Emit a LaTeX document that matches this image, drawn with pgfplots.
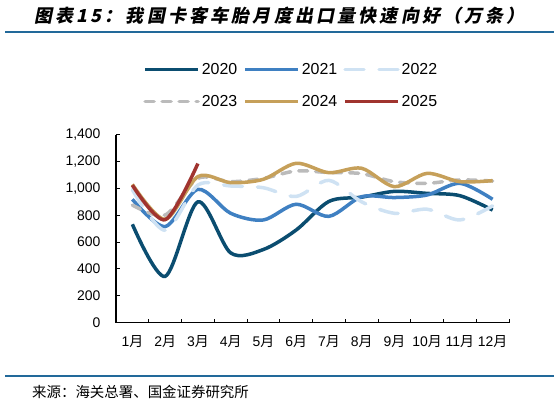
\documentclass[border=0pt]{standalone}
\usepackage{fontspec}
\usepackage{pgfplots}
\pgfplotsset{compat=1.18}
\setmainfont{Liberation Sans}
\newfontfamily\cjk{Noto Sans CJK SC}
\newfontfamily\cjktitle{Noto Sans CJK SC}[FakeSlant=0.2, LetterSpace=18]
\newcommand\yue{{\cjk 月}}
\definecolor{c2020}{HTML}{0B4D70}
\definecolor{c2021}{HTML}{3F80C2}
\definecolor{c2022}{HTML}{CFE2F3}
\definecolor{c2023}{HTML}{BBBBBB}
\definecolor{c2024}{HTML}{C6A05A}
\definecolor{c2025}{HTML}{A0342F}
\definecolor{rulec}{HTML}{22699A}
\begin{document}
\begin{tikzpicture}
\path[use as bounding box] (0bp,0bp) rectangle (559bp,403bp);
\node[anchor=west, inner sep=0pt, font=\cjktitle\bfseries\fontsize{18}{18}\selectfont] at (34bp,387.5bp) {图表15：我国卡客车胎月度出口量快速向好（万条）};
\draw[rulec, line width=1.2bp] (5bp,371bp) -- (554bp,371bp);
\draw[rulec, line width=1.2bp] (5bp,27bp) -- (554bp,27bp);
\node[anchor=west, inner sep=0pt, font=\cjk\fontsize{14.5}{14.5}\selectfont] at (32bp,11bp) {来源：海关总署、国金证券研究所};
\begin{axis}[
  at={(116bp,80.3bp)}, anchor=south west,
  scale only axis, width=393bp, height=188bp,
  xmin=0.5, xmax=12.5, ymin=0, ymax=1400,
  axis lines=left,
  axis line style={-, black, line width=1.2bp},
  xtick={0.5,1.5,...,12.5},
  x tick label as interval,
  xticklabels={1\yue,2\yue,3\yue,4\yue,5\yue,6\yue,7\yue,8\yue,9\yue,10\yue,11\yue,12\yue},
  ytick={0,200,...,1400},
  tick align=inside,
  major tick length=4bp,
  tick style={black, line width=1bp},
  /pgf/number format/1000 sep={,},
  /pgf/number format/assume math mode=true,
  yticklabel style={font=\fontsize{14}{14}\selectfont, xshift=-12bp},
  xticklabel style={font=\fontsize{14}{14}\selectfont, yshift=-9bp},
  legend columns=3,
  legend cell align=left,
  legend image code/.code={\draw[#1] (0bp,0bp) -- (53bp,0bp);},
  legend style={draw=none, fill=none, at={(0.446,1.2617)}, anchor=center,
    font=\fontsize{16}{16}\selectfont,
    /tikz/every even column/.append style={column sep=4bp},
    row sep=15bp},
  every axis plot/.append style={line width=3.5bp, smooth, tension=0.5},
]
\addplot[c2020] coordinates {(1,733) (2,345) (3,900) (4,520) (5,545) (6,690) (7,903) (8,935) (9,978) (10,963) (11,946) (12,839)};
\addlegendentry{2020}
\addplot[c2021] coordinates {(1,919) (2,716) (3,993) (4,815) (5,765) (6,882) (7,792) (8,938) (9,932) (10,951) (11,1038) (12,919)};
\addlegendentry{2021}
\addplot[c2022, dash pattern=on 19bp off 15bp, line cap=round] coordinates {(1,990) (2,688) (3,1025) (4,1018) (5,1005) (6,940) (7,1060) (8,900) (9,815) (10,845) (11,765) (12,870)};
\addlegendentry{2022}
\addplot[c2023, dash pattern=on 9bp off 8bp, line cap=round] coordinates {(1,876) (2,802) (3,1075) (4,1050) (5,1075) (6,1130) (7,1118) (8,1110) (9,1050) (10,1038) (11,1063) (12,1055)};
\addlegendentry{2023}
\addplot[c2024] coordinates {(1,1030) (2,770) (3,1088) (4,1043) (5,1068) (6,1187) (7,1117) (8,1150) (9,1013) (10,1112) (11,1050) (12,1058)};
\addlegendentry{2024}
\addplot[c2025] coordinates {(1,1024) (2,767) (3,1185)};
\addlegendentry{2025}
\end{axis}
\end{tikzpicture}
\end{document}
